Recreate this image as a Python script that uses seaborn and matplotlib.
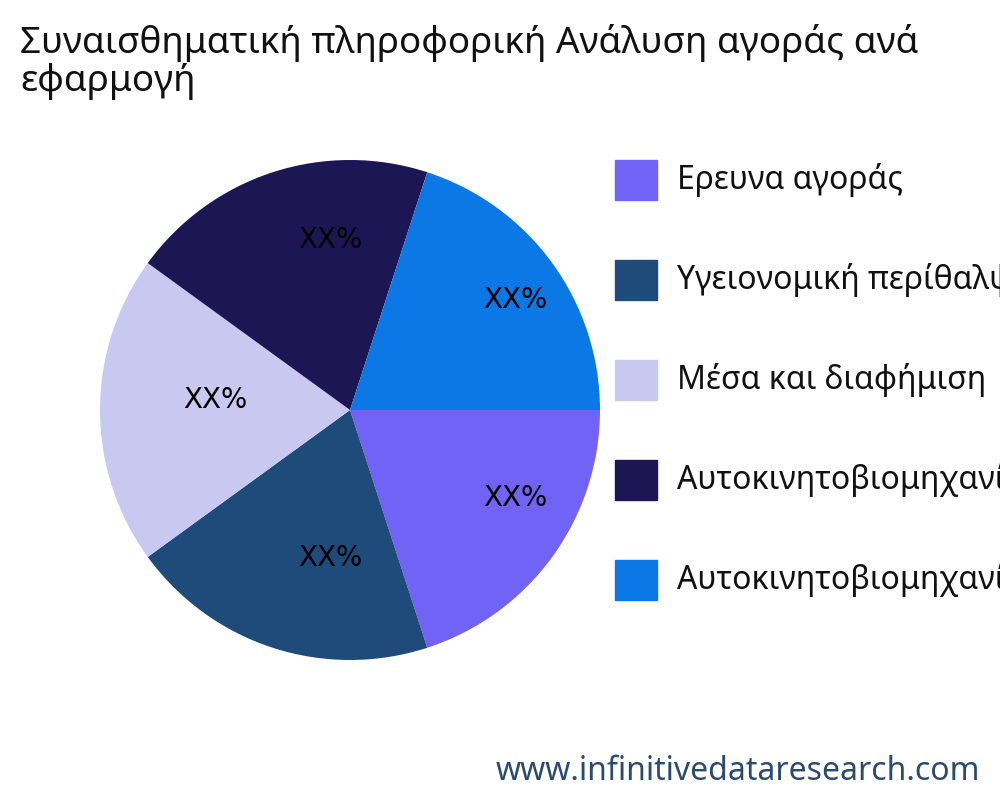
import matplotlib
matplotlib.use('Agg')
import matplotlib.pyplot as plt
import matplotlib.patches as mpatches
import seaborn as sns

# chart data
segments = ['Ερευνα αγοράς', 'Υγειονομική περίθαλψη', 'Μέσα και διαφήμιση',
            'Αυτοκινητοβιομηχανία', 'Αυτοκινητοβιομηχανία']
shares = [20, 20, 20, 20, 20]
pct_labels = ['XX%', 'XX%', 'XX%', 'XX%', 'XX%']
colors = ['#7163F5', '#1F4B7A', '#C9C8F0', '#1C1654', '#0B78E6']
title = 'Συναισθηματική πληροφορική Ανάλυση αγοράς ανά\nεφαρμογή'

# label anchor points (in pie radius units), as placed in the original
label_pos = [(0.66, -0.35), (-0.08, -0.59), (-0.54, 0.04), (-0.08, 0.68), (0.66, 0.44)]

sns.set_theme(style='white')
plt.rcParams['font.family'] = ['Noto Sans', 'DejaVu Sans']

fig = plt.figure(figsize=(10, 8), dpi=100)
ax = fig.add_axes([0.1, 0.175, 0.5, 0.625])
wedges, _ = ax.pie(shares, colors=colors, startangle=0, counterclock=False,
                   wedgeprops={'linewidth': 0})
for (x, y), lab in zip(label_pos, pct_labels):
    ax.text(x, y, lab, ha='center', va='center', fontsize=20, color='black',
            family='DejaVu Sans')
ax.set_aspect('equal')
ax.set_xlim(-1, 1)
ax.set_ylim(-1, 1)
ax.axis('off')

fig.text(0.02, 0.97, title, fontsize=26.5, va='top', ha='left', color='#111111',
         linespacing=1.05)

# legend drawn by hand to match the layout
for i, (name, c) in enumerate(zip(segments, colors)):
    yc = 1 - (180 + 100 * i) / 800
    fig.patches.append(mpatches.Rectangle((0.615, yc - 0.025), 0.042, 0.05,
                                          transform=fig.transFigure, color=c))
    fig.text(0.677, yc, name, fontsize=23, va='center', ha='left', color='#111111')

fig.text(0.98, 0.035, 'www.infinitivedataresearch.com', fontsize=23, ha='right',
         va='center', color='#2B4A6F')

fig.savefig('out.png', dpi=100)
